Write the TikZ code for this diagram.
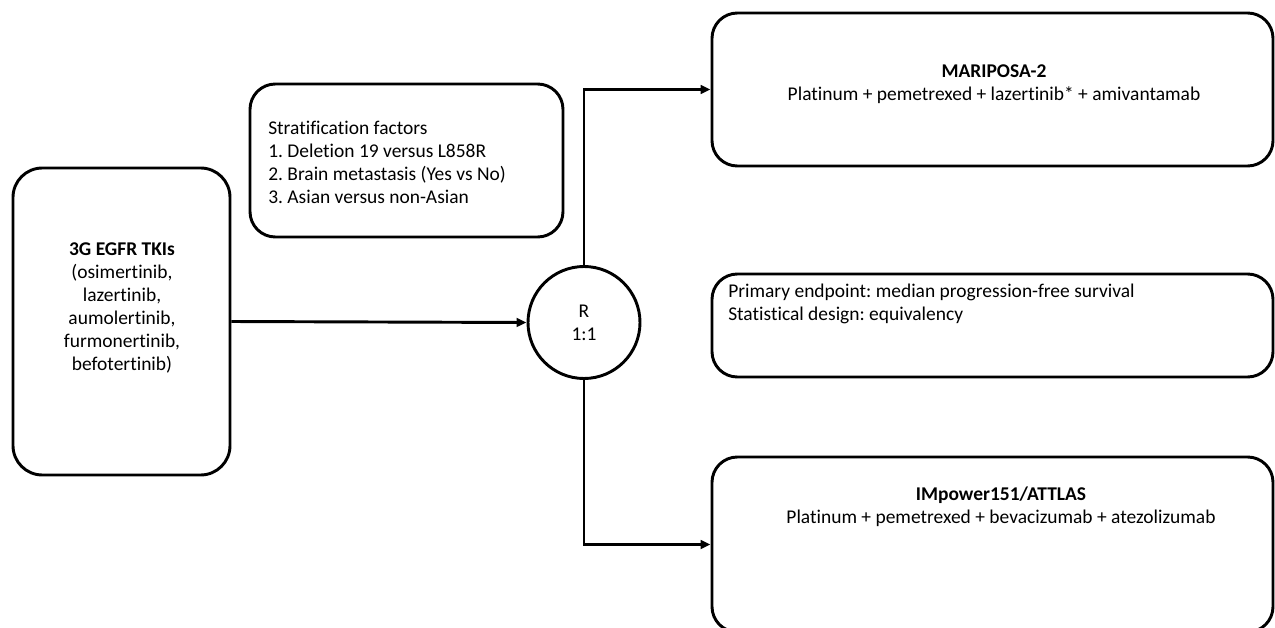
\documentclass[tikz,border=0pt]{standalone}
\usepackage{fontspec}
\setmainfont{Carlito}[Ligatures=NoCommon]
\usetikzlibrary{arrows.meta}
\frenchspacing
\begin{document}
\begin{tikzpicture}[x=0.75pt,y=-0.75pt,
  box/.style={draw,line width=2.2pt,rounded corners=19pt,inner sep=0pt},
  txt/.style={font=\fontsize{14.6pt}{17.25pt}\selectfont,inner sep=0pt},
  conn/.style={line width=2.2pt,-{Triangle[length=7.5pt,width=6.5pt]}},
]
\useasboundingbox (0,0) rectangle (1275,628);
\clip (0,0) rectangle (1275,628);
% boxes
\node[box,rounded corners=22pt,minimum width=162.75pt,minimum height=230.25pt] (lbox) at (121.5,321.5) {};
\node[box,minimum width=234.75pt,minimum height=114.75pt] (strat) at (406.5,160.5) {};
\node[box,minimum width=420.75pt,minimum height=114.75pt] (top) at (992.5,89.5) {};
\node[box,minimum width=420.75pt,minimum height=77.25pt] (mid) at (992.5,325.5) {};
\node[box,minimum width=420.75pt,minimum height=131.25pt] (bot) at (992.5,544.5) {};
\node[draw,circle,line width=2.2pt,minimum size=84pt,inner sep=0pt,align=center,txt] (R) at (584,322.5) {R\\1:1};
% texts
\node[txt,align=center] (ltxt) at (122,308) {\textbf{3G EGFR TKIs}\\(osimertinib,\\lazertinib,\\aumolertinib,\\furmonertinib,\\befotertinib)};
\node[txt,align=left,anchor=west] (stxt) at (268,162) {Stratification factors\\1. Deletion 19 versus L858R\\2. Brain metastasis (Yes vs No)\\3. Asian versus non-Asian};
\node[txt,align=center] (ttxt) at (994,84) {\textbf{MARIPOSA-2}\\Platinum + pemetrexed + lazertinib* + amivantamab};
\node[txt,align=left,anchor=west] (mtxt) at (728,304) {Primary endpoint: median progression-free survival\\Statistical design: equivalency};
\node[txt,align=center] (btxt) at (1001,507) {\textbf{IMpower151/ATTLAS}\\Platinum + pemetrexed + bevacizumab + atezolizumab};
% connectors
\draw[conn] (lbox.east) -- (R.west);
\draw[conn] (R.north) |- (top.west);
\draw[conn] (R.south) |- (bot.west);
\end{tikzpicture}
\end{document}
